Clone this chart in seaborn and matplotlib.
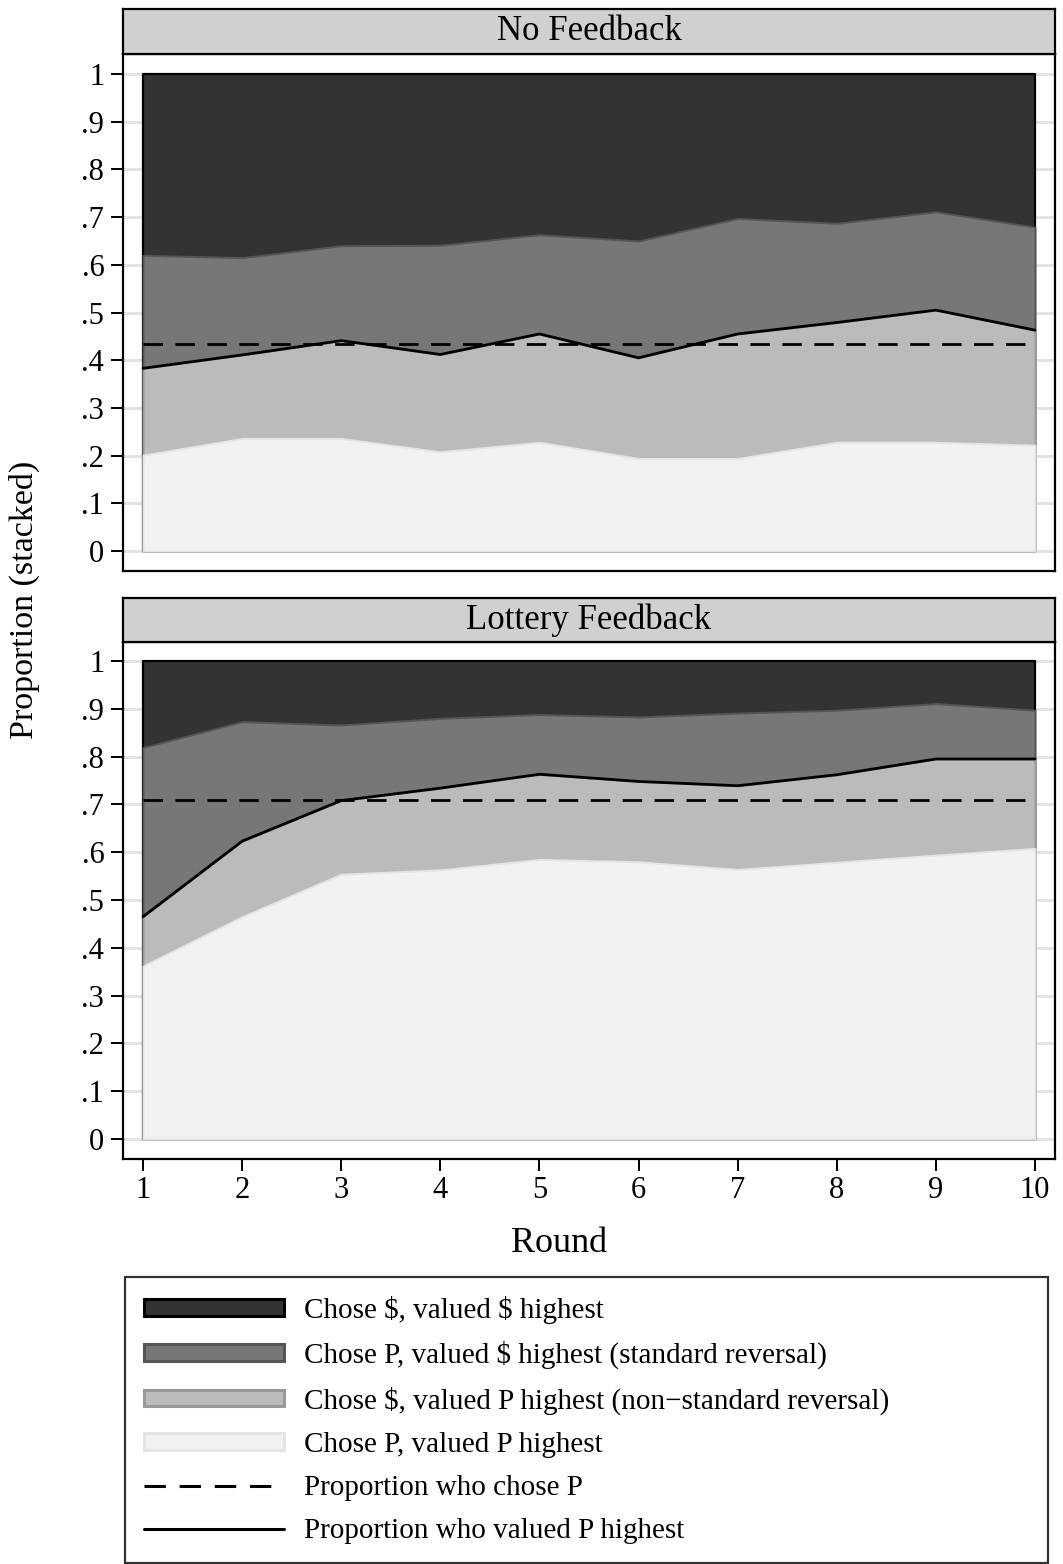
import matplotlib
matplotlib.use("Agg")
import matplotlib.pyplot as plt
from matplotlib.patches import Patch
from matplotlib.lines import Line2D
import seaborn as sns
import numpy as np
import pandas as pd

# ---- data: share of subjects in each choice/valuation category per round ----
rounds = [1, 2, 3, 4, 5, 6, 7, 8, 9, 10]
panel_titles = ["No Feedback", "Lottery Feedback"]

# No Feedback
nf_chose_p_valued_p = [0.201, 0.236, 0.236, 0.208, 0.228, 0.194, 0.194, 0.228, 0.228, 0.222]
nf_chose_d_valued_p = [0.182, 0.175, 0.205, 0.204, 0.227, 0.211, 0.261, 0.251, 0.277, 0.241]
nf_chose_p_valued_d = [0.237, 0.204, 0.199, 0.229, 0.208, 0.245, 0.242, 0.208, 0.206, 0.216]
nf_chose_d_valued_d = [0.380, 0.385, 0.360, 0.359, 0.337, 0.350, 0.303, 0.313, 0.289, 0.321]

# Lottery Feedback
lf_chose_p_valued_p = [0.362, 0.465, 0.554, 0.563, 0.585, 0.580, 0.564, 0.579, 0.594, 0.608]
lf_chose_d_valued_p = [0.103, 0.158, 0.154, 0.171, 0.178, 0.168, 0.175, 0.183, 0.201, 0.187]
lf_chose_p_valued_d = [0.354, 0.250, 0.158, 0.146, 0.125, 0.135, 0.152, 0.135, 0.116, 0.102]
lf_chose_d_valued_d = [0.181, 0.127, 0.134, 0.120, 0.112, 0.117, 0.109, 0.103, 0.089, 0.103]

# overall proportion who chose P (pooled over rounds)
chose_p_overall = [0.434, 0.709]

legend_labels = [
    "Chose \\$, valued \\$ highest",
    "Chose P, valued \\$ highest (standard reversal)",
    "Chose \\$, valued P highest (non\u2212standard reversal)",
    "Chose P, valued P highest",
    "Proportion who chose P",
    "Proportion who valued P highest",
]

# ---- styling ----
sns.set_theme(style="white")
plt.rcParams["font.family"] = ["Liberation Serif", "DejaVu Serif"]
plt.rcParams["mathtext.fontset"] = "stix"
for key in ["text.color", "axes.labelcolor", "xtick.color", "ytick.color"]:
    plt.rcParams[key] = "black"

fills = ["#333333", "#777777", "#bbbbbb", "#f2f2f2"]      # top -> bottom layer
edges = ["#000000", "#555555", "#999999", "#e4e4e4"]

W, H = 1063, 1564
fig = plt.figure(figsize=(W / 100, H / 100), dpi=100)


def fx(px):
    return px / W


def fy(py):
    return 1 - py / H


panels = [
    dict(title=panel_titles[0], strip=(9, 54), box=(54, 571),
         layers=[nf_chose_p_valued_p, nf_chose_d_valued_p, nf_chose_p_valued_d, nf_chose_d_valued_d],
         chose=chose_p_overall[0], ylim=(-0.0419, 1.0419), xticks=False),
    dict(title=panel_titles[1], strip=(598, 642), box=(642, 1159),
         layers=[lf_chose_p_valued_p, lf_chose_d_valued_p, lf_chose_p_valued_d, lf_chose_d_valued_d],
         chose=chose_p_overall[1], ylim=(-0.0418, 1.0397), xticks=True),
]

left_px, right_px = 123, 1055
TICK_FS = 22

for p in panels:
    top, bot = p["box"]
    ax = fig.add_axes([fx(left_px), fy(bot), fx(right_px - left_px), (bot - top) / H])
    ax.set_facecolor("white")

    # cumulative boundaries, bottom layer first
    df = pd.DataFrame({"round": rounds})
    cum = np.cumsum(np.array(p["layers"]), axis=0)
    df["valued_p"] = cum[1]
    df["chose_p"] = [p["chose"]] * len(rounds)

    # tallest area first so the smaller stacks sit on top of it
    order = [3, 2, 1, 0]
    for k, idx in enumerate(order):
        ax.fill_between(rounds, 0, cum[idx], facecolor=fills[k], edgecolor=edges[k],
                        linewidth=1.6 if k == 0 else 1.4, zorder=2 + k * 0.01)

    sns.lineplot(data=df, x="round", y="chose_p", ax=ax, color="black", lw=2.0,
                 linestyle=(0, (7, 4.5)), zorder=5)
    sns.lineplot(data=df, x="round", y="valued_p", ax=ax, color="black", lw=2.0, zorder=5)

    ax.set_xlim(0.798, 10.202)
    ax.set_ylim(*p["ylim"])
    yt = np.round(np.arange(0, 1.01, 0.1), 1)
    ax.set_yticks(yt)
    ax.set_yticklabels(["0"] + ["." + str(i) for i in range(1, 10)] + ["1"], fontsize=TICK_FS)
    ax.yaxis.grid(True, color="#e3e3e3", linewidth=2.2, zorder=0)
    ax.set_axisbelow(True)
    ax.tick_params(axis="y", direction="out", length=8.5, width=1.4, color="black", pad=5,
                   left=True)
    if p["xticks"]:
        ax.set_xticks(rounds)
        ax.set_xticklabels([str(r) for r in rounds], fontsize=TICK_FS)
        ax.tick_params(axis="x", direction="out", length=8.5, width=1.4, color="black",
                       pad=4, bottom=True)
    else:
        ax.set_xticks([])
    ax.set_xlabel("")
    ax.set_ylabel("")
    for s in ax.spines.values():
        s.set_color("black")
        s.set_linewidth(1.6)
        s.set_visible(True)

    # panel title strip
    st, sb = p["strip"]
    sax = fig.add_axes([fx(left_px), fy(sb), fx(right_px - left_px), (sb - st) / H])
    sax.set_facecolor("#d0d0d0")
    sax.set_xticks([])
    sax.set_yticks([])
    for s in sax.spines.values():
        s.set_color("black")
        s.set_linewidth(1.6)
        s.set_visible(True)
    sax.text(0.5, 0.5, p["title"], ha="center", va="center", fontsize=25,
             transform=sax.transAxes)

fig.text(fx(24), fy(600), "Proportion (stacked)", rotation=90, ha="center", va="center",
         fontsize=24.5)
fig.text(fx(559), fy(1243), "Round", ha="center", va="center", fontsize=26)

handles = [
    Patch(facecolor=fills[0], edgecolor=edges[0], linewidth=2.2),
    Patch(facecolor=fills[1], edgecolor=edges[1], linewidth=2.2),
    Patch(facecolor=fills[2], edgecolor=edges[2], linewidth=2.2),
    Patch(facecolor=fills[3], edgecolor=edges[3], linewidth=2.2),
    Line2D([], [], color="black", lw=2.2, linestyle=(0, (7, 4.5))),
    Line2D([], [], color="black", lw=2.2),
]
leg = fig.legend(handles, legend_labels, loc="upper left",
                 bbox_to_anchor=(fx(125), fy(1558), fx(923), (1558 - 1277) / H),
                 mode="expand", borderaxespad=0, fontsize=21, frameon=True,
                 fancybox=False, handlelength=4.8, handleheight=0.5,
                 handletextpad=0.68, labelspacing=0.59, borderpad=0.64)
leg.get_frame().set_edgecolor("black")
leg.get_frame().set_linewidth(1.6)

fig.savefig("out.png", dpi=100, facecolor="white")
